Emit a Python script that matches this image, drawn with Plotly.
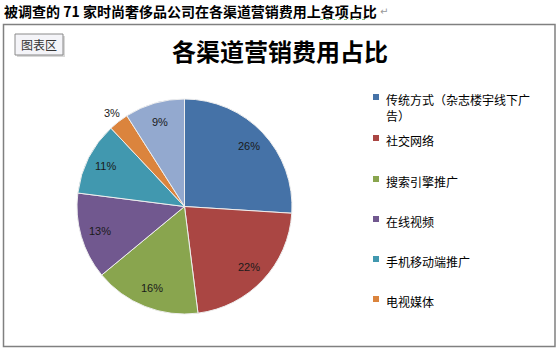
import math
import plotly.graph_objects as go

# ---- data ----
categories = ["传统方式（杂志楼宇线下广告）", "社交网络", "搜索引擎推广", "在线视频",
              "手机移动端推广", "电视媒体", "其他"]
shares = [26, 22, 16, 13, 11, 3, 9]
colors = ["#4572A7", "#AA4643", "#89A54E", "#71588F", "#4198AF", "#DB843D", "#93A9CF"]
legend_labels = ["传统方式（杂志楼宇线下广<br>告）", "社交网络", "搜索引擎推广", "在线视频",
                 "手机移动端推广", "电视媒体"]

W, H = 560, 352
CJK = "Noto Sans CJK SC, Noto Sans, sans-serif"

# pie geometry (pixels)
PX0, PX1, PY0, PY1 = 77, 292, 99, 314
cx, cy = (PX0 + PX1) / 2, (PY0 + PY1) / 2
R = min(PX1 - PX0, PY1 - PY0) / 2

fig = go.Figure(go.Pie(
    labels=categories, values=shares, sort=False, direction="clockwise", rotation=0,
    marker=dict(colors=colors, line=dict(color="#eeeeee", width=1)),
    textinfo="none", showlegend=False, hoverinfo="label+percent",
    domain=dict(x=[PX0 / W, PX1 / W], y=[(H - PY1) / H, (H - PY0) / H]),
))

shapes = []
annotations = []

# percentage labels placed like Excel's best-fit labels, derived from the shares
total = sum(shares)
cum = 0
for v in shares:
    mid = (cum + v / 2) / total * 2 * math.pi
    cum += v
    rf = 0.82 if v / total >= 0.05 else 1.1
    lx = cx + rf * R * math.sin(mid)
    ly = cy - rf * R * math.cos(mid)
    annotations.append(dict(x=lx / W, y=1 - ly / H, xref="paper", yref="paper",
                            xanchor="center", yanchor="middle", text=f"{v}%", showarrow=False,
                            font=dict(family="Liberation Sans, Arial, sans-serif", size=11, color="#1a1a1a")))

# outer document title
annotations.append(dict(x=2 / W, y=1 - 11 / H, xref="paper", yref="paper", xanchor="left", yanchor="middle",
                        text="<b>被调查的 71 家时尚奢侈品公司在各渠道营销费用上各项占比</b>",
                        showarrow=False, font=dict(family=CJK, size=14, color="#000")))
annotations.append(dict(x=378 / W, y=1 - 12 / H, xref="paper", yref="paper", xanchor="left", yanchor="middle",
                        text="↵", showarrow=False, font=dict(family="DejaVu Sans", size=10, color="#999")))
shapes.append(dict(type="line", xref="paper", yref="paper", x0=320 / W, x1=368 / W, y0=1 - 19.5 / H, y1=1 - 19.5 / H,
                   line=dict(color="#7fbf7f", width=1, dash="dot")))

# chart area border
shapes.append(dict(type="rect", xref="paper", yref="paper", x0=3.5 / W, x1=555 / W, y0=1 - 346.5 / H, y1=1 - 24.5 / H,
                   line=dict(color="#808080", width=1.5), fillcolor="rgba(0,0,0,0)", layer="below"))

# "图表区" tooltip box
shapes.append(dict(type="rect", xref="paper", yref="paper", x0=17 / W, x1=65 / W, y0=1 - 57 / H, y1=1 - 36 / H,
                   line=dict(width=0), fillcolor="#d8d8d8"))
shapes.append(dict(type="rect", xref="paper", yref="paper", x0=15 / W, x1=63 / W, y0=1 - 55 / H, y1=1 - 34 / H,
                   line=dict(color="#8a8a8a", width=1), fillcolor="#f4f4f8"))
annotations.append(dict(x=39 / W, y=1 - 44.5 / H, xref="paper", yref="paper", xanchor="center", yanchor="middle",
                        text="图表区", showarrow=False, font=dict(family=CJK, size=12, color="#333")))

# chart title
annotations.append(dict(x=280 / W, y=1 - 50 / H, xref="paper", yref="paper", xanchor="center", yanchor="middle",
                        text="<b>各渠道营销费用占比</b>", showarrow=False,
                        font=dict(family=CJK, size=24, color="#000")))

# manual legend (only the first six entries are visible in the reference)
legend_y = [97, 138, 179, 219, 259, 299]
for lab, col, ly in zip(legend_labels, colors, legend_y):
    shapes.append(dict(type="rect", xref="paper", yref="paper", x0=373 / W, x1=379 / W,
                       y0=1 - (ly + 3) / H, y1=1 - (ly - 3) / H, line=dict(width=0), fillcolor=col))
    annotations.append(dict(x=384 / W, y=1 - (ly - 8) / H, xref="paper", yref="paper", xanchor="left", yanchor="top",
                            text=lab, align="left", showarrow=False,
                            font=dict(family=CJK, size=12, color="#000")))

fig.update_layout(width=W, height=H, margin=dict(l=0, r=0, t=0, b=0),
                  paper_bgcolor="white", plot_bgcolor="white",
                  shapes=shapes, annotations=annotations)

fig.write_html("out.html")
